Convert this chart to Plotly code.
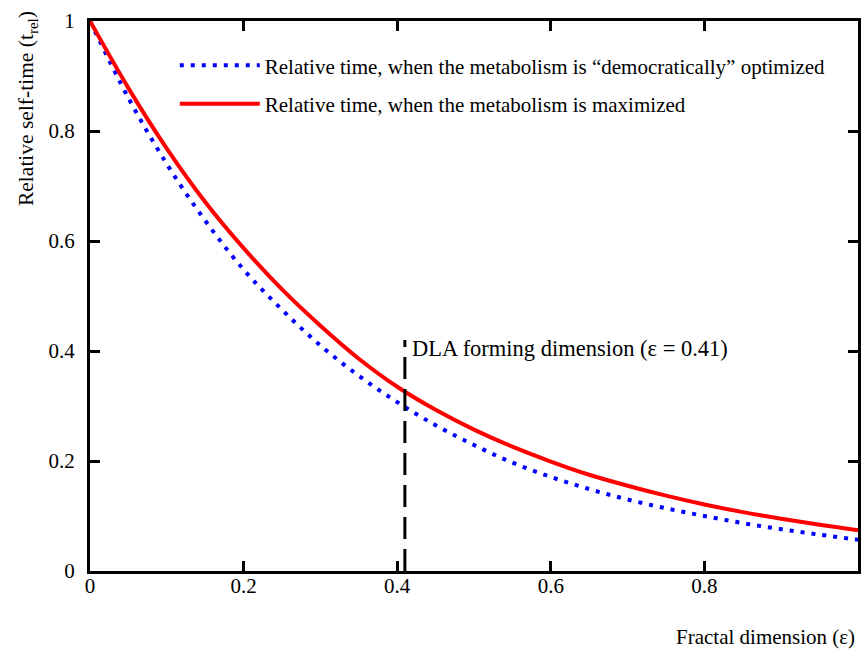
import plotly.graph_objects as go

eps = [0.00, 0.05, 0.10, 0.15, 0.20, 0.25, 0.30, 0.35, 0.40, 0.45, 0.50,
       0.55, 0.60, 0.65, 0.70, 0.75, 0.80, 0.85, 0.90, 0.95, 1.00]
t_max = [1.000, 0.878, 0.768, 0.671, 0.587, 0.512, 0.446, 0.386, 0.335, 0.293, 0.257,
         0.226, 0.199, 0.175, 0.155, 0.137, 0.121, 0.107, 0.095, 0.084, 0.074]
t_dem = [1.000, 0.860, 0.740, 0.637, 0.548, 0.475, 0.410, 0.355, 0.307, 0.265, 0.229,
         0.197, 0.171, 0.149, 0.130, 0.114, 0.100, 0.087, 0.076, 0.066, 0.057]
dla_x = [0.41, 0.41]
dla_y = [0.0, 0.42]
x_ticks = [0, 0.2, 0.4, 0.6, 0.8]
x_labels = ["0", "0.2", "0.4", "0.6", "0.8"]
y_ticks = [0, 0.2, 0.4, 0.6, 0.8, 1.0]
y_labels = ["0", "0.2", "0.4", "0.6", "0.8", "1"]

FONT = "Liberation Serif"

fig = go.Figure()
fig.add_trace(go.Scatter(x=eps, y=t_dem, mode="lines", line_shape="spline",
                         name="Relative time, when the metabolism is “democratically” optimized",
                         legendgroup="a",
                         line=dict(color="#0000ff", width=4, dash="4px,7px")))
fig.add_trace(go.Scatter(x=eps, y=t_max, mode="lines", line_shape="spline",
                         name="Relative time, when the metabolism is maximized",
                         legendgroup="b",
                         line=dict(color="#ff0000", width=4)))
fig.add_trace(go.Scatter(x=dla_x, y=dla_y, mode="lines", showlegend=False,
                         line=dict(color="black", width=3, dash="22px,10px")))

fig.add_annotation(x=0.41, y=0.405, xref="x", yref="y", text="DLA forming dimension (ε = 0.41)",
                   showarrow=False, xanchor="left", xshift=5, font=dict(family=FONT, size=22.5, color="black"))
fig.add_annotation(x=1.0, y=-0.12, xref="paper", yref="paper", text="Fractal dimension (ε)",
                   showarrow=False, xanchor="right", yanchor="middle", xshift=-1,
                   font=dict(family=FONT, size=21, color="black"))
fig.add_annotation(x=-0.082, y=0.84, xref="paper", yref="paper", text="Relative self-time (t<sub>rel</sub>)",
                   showarrow=False, textangle=-90, xanchor="center", yanchor="middle",
                   font=dict(family=FONT, size=21.5, color="black"))

axis_common = dict(showline=True, linecolor="black", linewidth=3, mirror="allticks",
                   ticks="inside", ticklen=10, tickwidth=3, tickcolor="black",
                   showgrid=False, zeroline=False, automargin=False,
                   tickfont=dict(family=FONT, size=21, color="black"))
fig.update_xaxes(range=[0, 1.0], tickvals=x_ticks, ticktext=x_labels, ticklabelstandoff=-6, **axis_common)
fig.update_yaxes(range=[0, 1.0], tickvals=y_ticks, ticktext=y_labels, ticklabelstandoff=8, **axis_common)

fig.update_layout(
    width=863, height=652,
    margin=dict(l=90, r=5, t=21, b=81),
    plot_bgcolor="white", paper_bgcolor="white",
    font=dict(family=FONT, size=21, color="black"),
    legend=dict(x=0.1104, y=0.956, xanchor="left", yanchor="top", bgcolor="rgba(0,0,0,0)",
                font=dict(family=FONT, size=21, color="black"), itemwidth=80,
                traceorder="grouped", tracegroupgap=8),
)

fig.write_html("out.html", config={"displayModeBar": False},
               post_script="document.body.style.margin='0';")
